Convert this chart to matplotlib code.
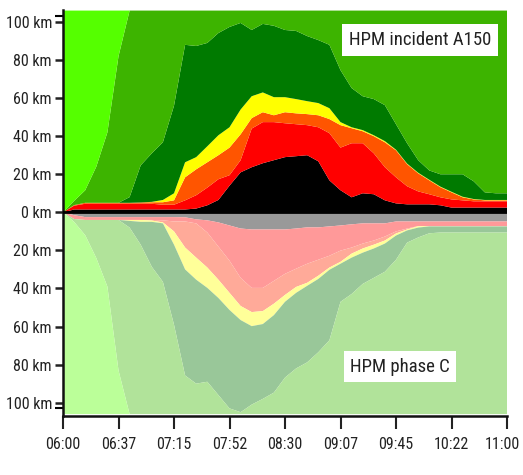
import numpy as np
import matplotlib
matplotlib.use("Agg")
import matplotlib.pyplot as plt
from matplotlib import font_manager as fm
from matplotlib.transforms import ScaledTranslation

# time in minutes after 06:00
minutes = [0, 7.5, 15, 22.5, 30, 37.5, 45, 52.5, 60, 67.5, 75, 82.5, 90, 97.5, 105,
           112.5, 120, 127.5, 135, 142.5, 150, 157.5, 165, 172.5, 180, 187.5, 195,
           202.5, 210, 217.5, 225, 232.5, 240, 247.5, 255, 262.5, 270, 277.5, 285,
           292.5, 300]

# ---- upper half: HPM incident A150 (km) ----
inc_black = [0, 1.5, 1.5, 1.5, 1.5, 1.5, 1.5, 1.5, 1.5, 1.5, 1.5, 1.5, 2.0, 3.7, 6.5,
             14, 21, 23.7, 25.8, 27.4, 29, 29.5, 30, 26.8, 16.8, 11.6, 7.9, 10, 9.5,
             6.3, 4.7, 4.2, 4.2, 4.2, 3.7, 2.5, 2.5, 2.5, 2.5, 2.5, 2.5]
inc_red = [0, 2.0, 3.0, 3.0, 3.0, 3.0, 3.0, 3.0, 3.0, 2.5, 2.5, 4.8, 7.0, 9.3, 10.9,
           5.5, 6.4, 20.3, 21.6, 20, 17.8, 16.8, 15.8, 17.9, 24.8, 22.4, 28.4, 26.3,
           21.5, 17.4, 13.7, 9.5, 6.8, 5.3, 4.2, 4.3, 3.8, 3.3, 3.3, 3.3, 3.3]
inc_orange = [0, 0.3, 0.5, 0.5, 0.5, 0.5, 0.5, 0.7, 0.8, 1.3, 2.3, 12.1, 13.6, 13.3,
              12.6, 14.5, 13.6, 5.5, 5.2, 3.6, 5.8, 5.7, 5.8, 6.3, 7.4, 11.8, 7.9, 6.3,
              9, 13.1, 14.2, 11.6, 9.5, 7.3, 5.3, 3.7, 1.6, 1.0, 0.5, 0.5, 0.5]
inc_yellow = [0, 0, 0, 0, 0, 0, 0, 0, 0.2, 1.2, 3.7, 7.9, 6.4, 8.4, 10.5, 10.7, 13,
              11.5, 10.4, 9.5, 7.9, 7.5, 6.8, 6.4, 5.7, 1.6, 0.5, 0.6, 0.5, 0.6, 0.3,
              0.3, 0.3, 0.3, 0.3, 0.3, 0.3, 0.2, 0.2, 0.2, 0.2]
inc_dkgreen = [0, 0, 0, 0, 0, 0, 3, 19.5, 25.5, 30.3, 46, 61.7, 58.4, 54.3, 53.7, 52.7,
               45.5, 34.8, 36, 37.5, 35.3, 35.8, 34.2, 33.1, 33.3, 27.3, 20.6, 17.8,
               19, 18.9, 13.4, 10.7, 6.6, 4.9, 6.5, 9.2, 11.8, 9.3, 4.0, 3.5, 3.5]
inc_green = [0, 2.2, 6.6, 19, 37, 77, 98, 81.3, 75, 69.2, 50, 18, 18.6, 17, 11.8, 8.6,
             6.5, 10.2, 7, 8, 10.2, 10.7, 13.4, 15.5, 18, 31.3, 40.7, 45, 46.5, 49.7,
             59.7, 69.7, 78.6, 84, 86, 86, 86, 89.7, 95.5, 96, 96]
inc_lime = [106, 100, 94.4, 82, 64, 24, 0, 0, 0, 0, 0, 0, 0, 0, 0, 0, 0, 0, 0, 0, 0, 0,
            0, 0, 0, 0, 0, 0, 0, 0, 0, 0, 0, 0, 0, 0, 0, 0, 0, 0, 0]

# ---- lower half: HPM phase C (km) ----
ph_gray = [0, 1.5, 2.5, 2.5, 2.5, 2.5, 2.5, 2.5, 2.5, 2.5, 2.5, 2.6, 3.7, 4.2, 5.3, 6.9,
           8.5, 9, 9, 9, 9, 8.5, 7.9, 7.9, 7.4, 6.9, 6.3, 5.8, 5.8, 5.8, 4.8, 4.8, 4.8,
           4.8, 4.8, 4.8, 4.8, 4.8, 4.8, 4.8, 4.8]
ph_pink = [0, 2.0, 1.5, 1.5, 1.5, 1.5, 1.5, 1.5, 1.5, 1.7, 2.3, 2.2, 2.1, 6.4, 12.7,
           18.5, 25.9, 30.7, 30.7, 27, 23.3, 21.1, 19.1, 17, 15.4, 13.2, 12.2, 10.6, 9,
           6.9, 5.2, 3.7, 2.4, 2.4, 2.4, 2.4, 2.4, 2.4, 2.4, 2.4, 2.4]
ph_salmon = [0, 0, 0, 0, 0, 0, 0, 0, 0.3, 1.1, 5.2, 13.7, 18, 18.4, 17.4, 16.9, 14.8,
             12.7, 12.2, 12, 11.1, 9.6, 10, 8.4, 6.2, 5.9, 3.2, 2.6, 2.2, 2.1, 1.1, 0.5,
             0.1, 0.1, 0.1, 0.1, 0.1, 0.1, 0.1, 0.1, 0.1]
ph_yellow = [0, 0, 0, 0, 0, 0, 0.5, 1.0, 0.7, 0.5, 7, 11.5, 11.6, 10.7, 9.6, 9, 7.4, 7.4,
             6.8, 6, 3.6, 3.1, 1.6, 1.7, 1.2, 1.0, 2.1, 2.2, 2, 1.6, 1.1, 0.5, 0.7, 0.1,
             0.1, 0.1, 0.1, 0.1, 0.1, 0.1, 0.1]
ph_dkgreen = [0, 0, 0, 0, 0, 0, 3.5, 12, 23.6, 30.7, 42, 55.7, 54.6, 49.3, 51, 51.7,
              48.4, 41.2, 39.3, 40.7, 39.8, 39.7, 40.2, 38.5, 37, 20, 19.1, 16.4, 15.4,
              14.8, 12.7, 6.4, 5.2, 3.6, 3.2, 3.2, 3.2, 3.2, 3.2, 3.2, 3.2]
ph_green = [0, 1.5, 8, 20, 35, 79, 98, 89, 77.4, 69.5, 47, 20.3, 16, 17, 10, 3, 1, 5, 8,
            11.3, 19.2, 24, 27.2, 32.5, 38.8, 59, 63.1, 68.4, 71.6, 74.8, 81.1, 90.1,
            92.8, 95, 95.4, 95.4, 95.4, 95.4, 95.4, 95.4, 95.4]
ph_lime = [106, 101, 94, 82, 67, 23, 0, 0, 0, 0, 0, 0, 0, 0, 0, 0, 0, 0, 0, 0, 0, 0, 0,
           0, 0, 0, 0, 0, 0, 0, 0, 0, 0, 0, 0, 0, 0, 0, 0, 0, 0]

inc_colors = ["#000000", "#ff0000", "#ff5500", "#ffff00", "#007a00", "#3db400", "#55ff00"]
ph_colors = ["#999999", "#ff9999", "#ffaa99", "#ffff99", "#99c799", "#b1e39a", "#bbff99"]

xtick_pos = [0, 37.5, 75, 112.5, 150, 187.5, 225, 262.5, 300]
xtick_labels = ["06:00", "06:37", "07:15", "07:52", "08:30", "09:07", "09:45", "10:22", "11:00"]
ytick_pos = [-100, -80, -60, -40, -20, 0, 20, 40, 60, 80, 100]
ytick_labels = ["100 km", "80 km", "60 km", "40 km", "20 km", "0 km",
                "20 km", "40 km", "60 km", "80 km", "100 km"]


def pick_font():
    """Prefer a narrow/condensed face, like the reference."""
    for fam in ["Roboto Condensed", "Liberation Sans Narrow", "DejaVu Sans Condensed",
                "Open Sans Condensed", "Noto Sans Condensed"]:
        try:
            fm.findfont(fm.FontProperties(family=fam), fallback_to_default=False)
            return fam, "normal", 1.0
        except Exception:
            pass
    for fam in ["DejaVu Sans", "Roboto", "Noto Sans", "Open Sans"]:
        try:
            p = fm.findfont(fm.FontProperties(family=fam, stretch="condensed"),
                            fallback_to_default=False)
            if "ondensed" in p:
                return fam, "condensed", 0.95
        except Exception:
            pass
    return "Liberation Sans", "normal", 0.8


FAM, STRETCH, SCALE = pick_font()
plt.rcParams["font.family"] = [FAM, "DejaVu Sans"]
plt.rcParams["font.stretch"] = STRETCH

fig = plt.figure(figsize=(5.23, 4.75), dpi=100)
ax = fig.add_axes([63 / 523, 1 - 416 / 475, 444 / 523, 406 / 475])

x = np.array(minutes)
top = [inc_black, inc_red, inc_orange, inc_yellow, inc_dkgreen, inc_green, inc_lime]
bot = [ph_gray, ph_pink, ph_salmon, ph_yellow, ph_dkgreen, ph_green, ph_lime]

ax.stackplot(x, *[np.array(s) for s in top], colors=inc_colors, linewidth=0)
ax.stackplot(x, *[-np.array(s) for s in bot], colors=ph_colors, linewidth=0)
ax.axhline(0, color="black", lw=2.0, zorder=5)

ax.set_xlim(0, 300)
ax.set_ylim(-107, 106.3)

ax.set_xticks(xtick_pos)
ax.set_xticklabels(xtick_labels)
ax.set_yticks(ytick_pos)
ax.set_yticklabels(ytick_labels)
ax.set_yticks([-103, 103], minor=True)

for s in ["top", "right"]:
    ax.spines[s].set_visible(False)
for s in ["left", "bottom"]:
    ax.spines[s].set_linewidth(1.8)
    ax.spines[s].set_color("#111111")

ax.tick_params(axis="y", length=6, width=1.8, labelsize=11.5 * SCALE, pad=2,
               colors="#222222")
ax.tick_params(axis="y", which="minor", length=6, width=1.5)
ax.tick_params(axis="x", length=9, width=1.5, labelsize=11.5 * SCALE, pad=6,
               colors="#222222")

# nudge the last time label so it stays inside the picture
last = ax.get_xticklabels()[-1]
last.set_transform(last.get_transform() + ScaledTranslation(-5 / 100, 0, fig.dpi_scale_trans))

ax.text(0.804, 0.926, "HPM incident A150", transform=ax.transAxes, ha="center",
        va="center", fontsize=13.5 * SCALE, color="#222222", zorder=6,
        bbox=dict(boxstyle="square,pad=0.35", fc="white", ec="none"))
ax.text(0.759, 0.121, "HPM phase C", transform=ax.transAxes, ha="center",
        va="center", fontsize=13.5 * SCALE, color="#222222", zorder=6,
        bbox=dict(boxstyle="square,pad=0.35", fc="white", ec="none"))

fig.savefig("out.png", dpi=100)
